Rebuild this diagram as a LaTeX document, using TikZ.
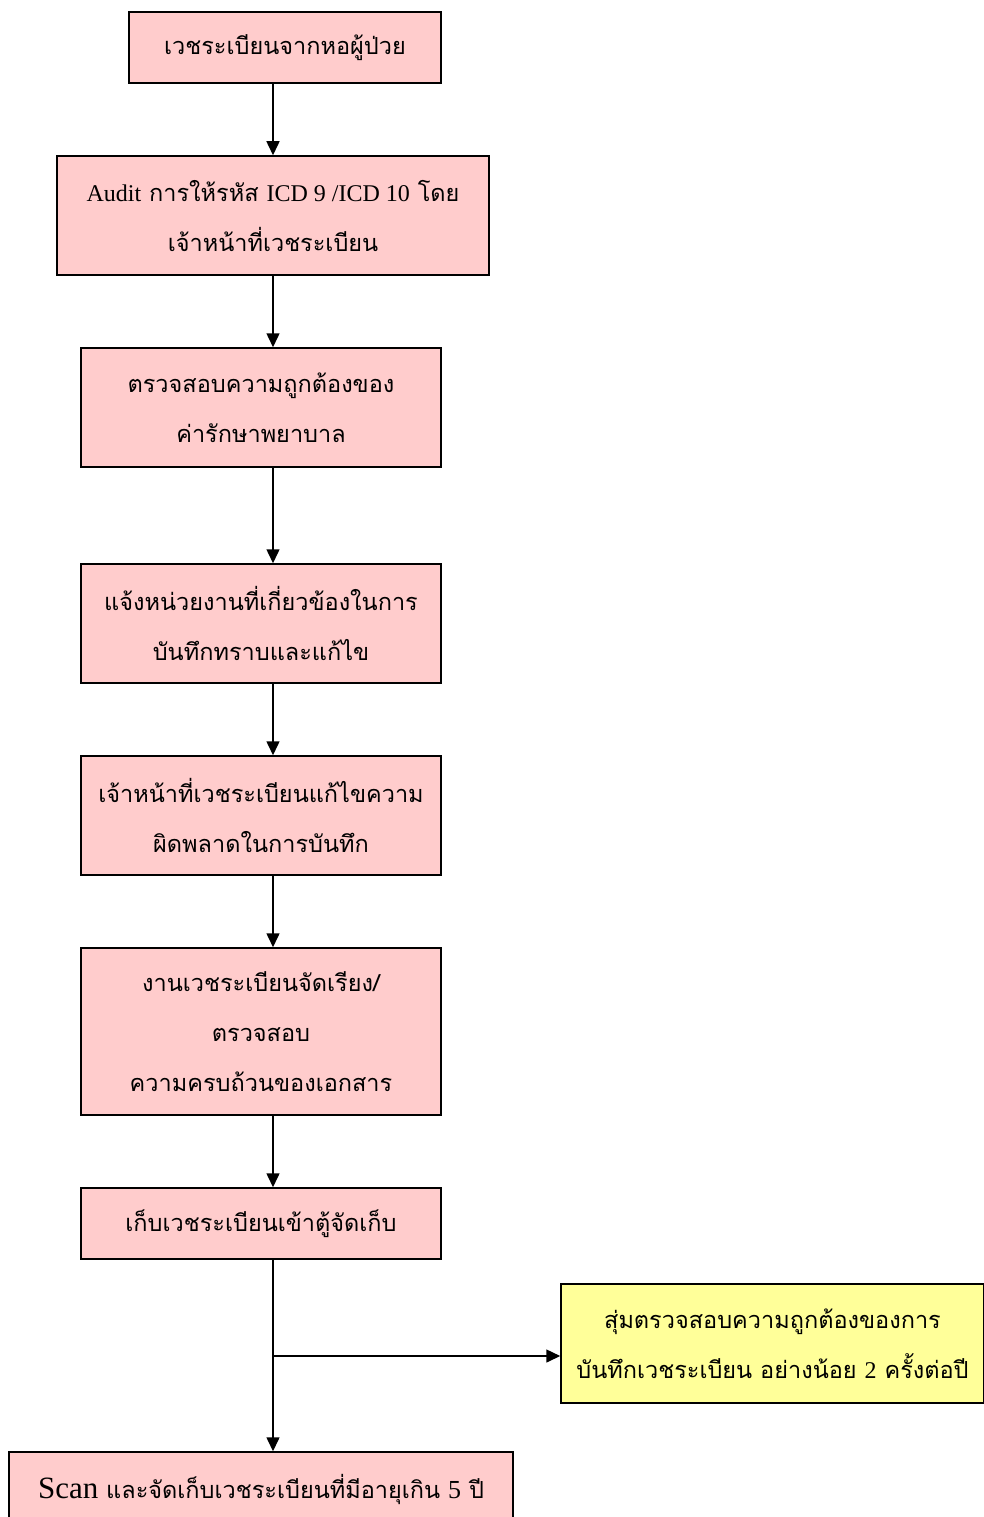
\documentclass[tikz,border=0pt]{standalone}
\usepackage{fontspec}
\setmainfont[Script=Thai]{Loma}
\newfontfamily\latf{Liberation Serif}
\usetikzlibrary{arrows.meta}
\definecolor{pinkfill}{HTML}{FFCCCC}
\definecolor{yellowfill}{HTML}{FFFF99}
\newcommand{\lt}[1]{{\latf\fontsize{24}{50}\selectfont #1}}
\tikzset{
  box/.style={draw=black, line width=1.5pt, fill=pinkfill, rectangle, align=center, inner sep=0pt,
    font=\fontsize{23.5}{50}\selectfont},
  ybox/.style={box, fill=yellowfill},
  arr/.style={line width=1.5pt, -{Triangle[length=14pt,width=13pt]}},
  ln/.style={line width=1.5pt}
}
\begin{document}
\begin{tikzpicture}[x=1pt,y=1pt]
\useasboundingbox (0,0) rectangle (984,-1517);
\node[box, minimum width=312pt, minimum height=71pt] (b1) at (285,-47.5) {เวชระเบียนจากหอผู้ป่วย};
\node[box, minimum width=432pt, minimum height=119pt] (b2) at (273,-215.5) {\lt{Audit} การให้รหัส \lt{ICD 9 /ICD 10} โดย\\เจ้าหน้าที่เวชระเบียน};
\node[box, minimum width=360pt, minimum height=119pt] (b3) at (261,-407.5) {ตรวจสอบความถูกต้องของ\\ค่ารักษาพยาบาล};
\node[box, minimum width=360pt, minimum height=119pt] (b4) at (261,-623.5) {แจ้งหน่วยงานที่เกี่ยวข้องในการ\\บันทึกทราบและแก้ไข};
\node[box, minimum width=360pt, minimum height=119pt] (b5) at (261,-815.5) {เจ้าหน้าที่เวชระเบียนแก้ไขความ\\ผิดพลาดในการบันทึก};
\node[box, minimum width=360pt, minimum height=167pt] (b6) at (261,-1031.5) {งานเวชระเบียนจัดเรียง/\\ตรวจสอบ\\ความครบถ้วนของเอกสาร};
\node[box, minimum width=360pt, minimum height=71pt] (b7) at (261,-1223.5) {เก็บเวชระเบียนเข้าตู้จัดเก็บ};
\node[ybox, minimum width=423pt, minimum height=119pt] (b8) at (772.5,-1343.5) {สุ่มตรวจสอบความถูกต้องของการ\\บันทึกเวชระเบียน อย่างน้อย \lt{2} ครั้งต่อปี};
\node[box, minimum width=504pt, minimum height=74pt] (b9) at (261,-1489) {{\latf\fontsize{31}{50}\selectfont Scan} และจัดเก็บเวชระเบียนที่มีอายุเกิน {\latf\fontsize{26}{50}\selectfont 5} ปี};
\coordinate (ax) at (273,0);
\coordinate (br) at (273,-1356);
\draw[arr] (b1.south -| ax) -- (b2.north -| ax);
\draw[arr] (b2.south -| ax) -- (b3.north -| ax);
\draw[arr] (b3.south -| ax) -- (b4.north -| ax);
\draw[arr] (b4.south -| ax) -- (b5.north -| ax);
\draw[arr] (b5.south -| ax) -- (b6.north -| ax);
\draw[arr] (b6.south -| ax) -- (b7.north -| ax);
\draw[arr] (b7.south -| ax) -- (b9.north -| ax);
\draw[arr] (br) -- (br -| b8.west);
\end{tikzpicture}
\end{document}
